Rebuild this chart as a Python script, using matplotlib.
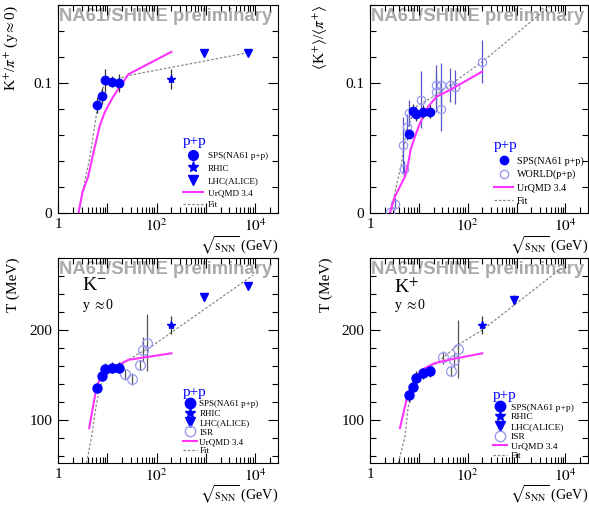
import matplotlib
matplotlib.use('Agg')
import matplotlib.pyplot as plt
from matplotlib.ticker import FixedLocator, FuncFormatter, MultipleLocator, NullFormatter

plt.rcParams['font.family'] = ['Liberation Serif', 'DejaVu Serif']
plt.rcParams['mathtext.fontset'] = 'stix'

# ---------------- data ----------------
sps_x = [6.3, 7.7, 8.8, 12.3, 17.3]
rhic_x = [200]
lhc_x = [900, 7000]
lhc_kp_x = [900]

# Panel 1: K+/pi+ at mid-rapidity
kpi_mid_sps = [0.083, 0.090, 0.102, 0.101, 0.100]
kpi_mid_sps_err = [0.0064, 0.0058, 0.0086, 0.0044, 0.0067]
kpi_mid_rhic = [0.103]
kpi_mid_rhic_err = [0.008]
kpi_mid_lhc = [0.123, 0.123]
urqmd_kpi_mid_x = [2.6, 3.16, 4.1, 5.2, 7.1, 9.0, 12.9, 18, 26.8, 200]
urqmd_kpi_mid_y = [0.0, 0.0164, 0.028, 0.046, 0.0677, 0.078, 0.089, 0.097, 0.1067, 0.124]
fit_kpi_mid_x = [2.6, 3.26, 4.46, 5.63, 6.6, 8.3, 18, 29, 9000]
fit_kpi_mid_y = [0.0, 0.019, 0.0433, 0.069, 0.0856, 0.097, 0.1036, 0.106, 0.124]

# Panel 2: <K+>/<pi+>
kpi_4pi_sps = [0.061, 0.0785, 0.076, 0.078, 0.078]
kpi_4pi_sps_err = [0.0036, 0.005, 0.005, 0.005, 0.005]
world_x = [2.6, 3.2, 4.7, 4.9, 5.8, 6.3, 11, 22, 22, 28, 28, 44, 54, 200]
world_y = [0.0005, 0.0072, 0.052, 0.034, 0.066, 0.077, 0.087, 0.0985, 0.093,
           0.0985, 0.080, 0.0985, 0.0967, 0.1164]
world_err = [0.002, 0.004, 0.022, 0.006, 0.010, 0.010, 0.022, 0.015, 0.015,
             0.017, 0.017, 0.013, 0.013, 0.0165]
urqmd_kpi_4pi_x = [2.56, 3.24, 4.1, 5.2, 6.05, 6.76, 8.3, 10.5, 15.5, 23, 43, 196]
urqmd_kpi_4pi_y = [0.0005, 0.0126, 0.0203, 0.028, 0.038, 0.0485, 0.0587, 0.069,
                   0.0818, 0.0895, 0.0946, 0.1087]
fit_kpi_4pi_x = [2.6, 4.4, 5.6, 9.0, 23, 200, 5100]
fit_kpi_4pi_y = [0.0, 0.038, 0.064, 0.082, 0.091, 0.1164, 0.16]

# Panel 3: inverse slope T of K-
T_km_sps = [135.9, 148.9, 156.7, 158.1, 158.1]
T_km_sps_err = [5, 6, 6, 6, 6]
T_km_rhic = [205.6]
T_km_rhic_err = [10]
T_km_lhc = [237, 249]
T_km_lhc_err = [4, 4]
isr_km_x = [23, 31, 45, 53, 63]
T_km_isr = [150.8, 145.6, 161.1, 177.8, 185.9]
T_km_isr_err = [6, 7, 6, 14, 32]
urqmd_T_km_x = [4.3, 5.2, 6.1, 7.7, 9.7, 16.7, 26.7, 54, 200]
urqmd_T_km_y = [90.8, 116.7, 137, 150, 156.3, 161.1, 166.7, 169.3, 174]
fit_T_km_x = [3.8, 4.8, 5.9, 7.1, 9.7, 16.7, 39, 73, 9100]
fit_T_km_y = [52, 81.5, 114.8, 137, 150, 159.3, 172.2, 180.4, 261]

# Panel 4: inverse slope T of K+
T_kp_sps = [127.8, 136.3, 146.3, 151.9, 154.1]
T_kp_sps_err = [8, 8, 8, 6, 6]
T_kp_rhic = [205.6]
T_kp_rhic_err = [10]
T_kp_lhc = [233.3]
T_kp_lhc_err = [6]
isr_kp_x = [31, 45, 53, 63]
T_kp_isr = [169.6, 154.4, 166.7, 178.9]
T_kp_isr_err = [7, 6, 8, 32]
urqmd_T_kp_x = [4.1, 5.2, 6.05, 8.3, 11.4, 21, 46.5, 200]
urqmd_T_kp_y = [90.8, 114.8, 129.6, 144.4, 155.6, 163, 167.4, 174]
fit_T_kp_x = [3.8, 5.2, 6.05, 9.7, 21, 63, 200, 8000]
fit_T_kp_y = [52, 81.5, 114.8, 148, 161.1, 183.3, 200, 268]

xtick_labels = {1: '1', 100: '$10^2$', 10000: '$10^4$'}

# ---------------- style ----------------
BLUE = '#0000ff'
PINK = '#ff33ff'
GRAY = '#888888'
LIGHT = '#9999ee'
ERRC = '#333333'

W, H = 589, 507
fig = plt.figure(figsize=(W / 100, H / 100), dpi=100)


def add_ax(l, t, r, b):
    return fig.add_axes([l / W, 1 - b / H, (r - l) / W, (b - t) / H])


ax1 = add_ax(58, 5, 278, 213)
ax2 = add_ax(370, 5, 588, 213)
ax3 = add_ax(58, 258, 278, 463)
ax4 = add_ax(370, 258, 588, 463)


def style(ax, ylim, ymajor, yminor, ylab, lab_x, xlab_y):
    ax.set_xscale('log')
    ax.set_xlim(1, 2.9e4)
    ax.set_ylim(*ylim)
    decades = [10 ** k for k in range(0, 5)]
    ax.xaxis.set_major_locator(FixedLocator(decades))
    minors = [m * 10 ** k for k in range(0, 5) for m in range(2, 10)]
    ax.xaxis.set_minor_locator(FixedLocator(minors))
    ax.xaxis.set_major_formatter(FuncFormatter(lambda v, p: xtick_labels.get(int(round(v)), '')))
    ax.xaxis.set_minor_formatter(NullFormatter())
    ax.yaxis.set_major_locator(FixedLocator(ymajor))
    ax.yaxis.set_minor_locator(MultipleLocator(yminor))
    ax.tick_params(which='both', direction='in', top=True, right=True, width=0.8)
    ax.tick_params(which='major', length=7, labelsize=11)
    ax.tick_params(which='minor', length=4)
    ax.tick_params(axis='x', which='major', pad=3.5)
    ax.tick_params(axis='y', which='major', pad=4)
    for s in ax.spines.values():
        s.set_linewidth(0.8)
    ax.set_ylabel(ylab, loc='top', fontsize=11)
    ax.yaxis.set_label_coords(lab_x, 1.0)
    ax.set_xlabel(r'$\sqrt{\mathrm{s}_{\mathrm{NN}}}$ (GeV)', loc='right', fontsize=10.2)
    ax.xaxis.set_label_coords(1.0, xlab_y)
    ax.text(0.005, 0.985, 'NA61/SHINE preliminary', transform=ax.transAxes,
            ha='left', va='top', fontsize=13.3, fontweight='bold',
            color='#aaaaaa', family='Liberation Sans', zorder=0)


style(ax1, (0, 0.16), [0, 0.1], 0.02, r'K$^{+}$/$\pi^{+}$ (y$\approx$0)', -0.173, -0.105)
style(ax2, (0, 0.16), [0, 0.1], 0.02,
      r'$\langle$K$^{+}\rangle$/$\langle\pi^{+}\rangle$', -0.183, -0.105)
style(ax3, (52, 280), [100, 200], 20, 'T (MeV)', -0.173, -0.1)
style(ax4, (52, 280), [100, 200], 20, 'T (MeV)', -0.17, -0.1)
ax1.yaxis.set_major_formatter(FuncFormatter(lambda v, p: '0' if v == 0 else f'{v:g}'))
ax2.yaxis.set_major_formatter(FuncFormatter(lambda v, p: '0' if v == 0 else f'{v:g}'))


def eb(ax, x, y, err, **kw):
    return ax.errorbar(x, y, yerr=err, capsize=0, elinewidth=0.9, linestyle='none', **kw)


def legend(ax, handles, labels, anchor, fs, hl, htp, lsp, tfs):
    leg = ax.legend(handles, labels, loc='upper left', bbox_to_anchor=anchor,
                    frameon=False, fontsize=fs, title='p+p', title_fontsize=tfs,
                    handlelength=hl, handletextpad=htp, labelspacing=lsp,
                    borderpad=0, borderaxespad=0, alignment='left', markerscale=1.0)
    leg.get_title().set_color(BLUE)
    return leg


# ---- panel 1 ----
ax = ax1
l_fit, = ax.plot(fit_kpi_mid_x, fit_kpi_mid_y, ls=(0, (2, 1.5)), color=GRAY, lw=0.9)
l_urq, = ax.plot(urqmd_kpi_mid_x, urqmd_kpi_mid_y, color=PINK, lw=1.5)
eb(ax, sps_x, kpi_mid_sps, kpi_mid_sps_err, marker='o', ms=6, color=BLUE, ecolor=ERRC, zorder=5)
eb(ax, rhic_x, kpi_mid_rhic, kpi_mid_rhic_err, marker='*', ms=6, color=BLUE, ecolor=ERRC, zorder=5)
ax.plot(lhc_x, kpi_mid_lhc, marker='v', ms=6, color=BLUE, ls='none', zorder=5)
m_sps, = ax.plot([], [], 'o', color=BLUE, ms=7)
m_rhic, = ax.plot([], [], '*', color=BLUE, ms=8)
m_lhc, = ax.plot([], [], 'v', color=BLUE, ms=7)
legend(ax, [m_sps, m_rhic, m_lhc, l_urq, l_fit],
       ['SPS(NA61 p+p)', 'RHIC', 'LHC(ALICE)', 'UrQMD 3.4', 'Fit'],
       ((183 - 58) / 220, 1 - (135 - 5) / 208), 6.6, 2.2, 0.55, 0.42, 11)

# ---- panel 2 ----
ax = ax2
l_fit2, = ax.plot(fit_kpi_4pi_x, fit_kpi_4pi_y, ls=(0, (2, 1.5)), color=GRAY, lw=0.9)
eb(ax, world_x, world_y, world_err, marker='o', ms=6, mfc='none', mec=LIGHT, mew=0.9,
   color=LIGHT, ecolor='#5555cc', zorder=3)
l_urq2, = ax.plot(urqmd_kpi_4pi_x, urqmd_kpi_4pi_y, color=PINK, lw=1.5, zorder=4)
eb(ax, sps_x, kpi_4pi_sps, kpi_4pi_sps_err, marker='o', ms=6, color=BLUE, ecolor=ERRC, zorder=5)
m_sps2, = ax.plot([], [], 'o', color=BLUE, ms=6)
m_world, = ax.plot([], [], 'o', mfc='none', mec=LIGHT, ms=6)
legend(ax, [m_sps2, m_world, l_urq2, l_fit2],
       ['SPS(NA61 p+p)', 'WORLD(p+p)', 'UrQMD 3.4', 'Fit'],
       ((494 - 370) / 218, 1 - (139 - 5) / 208), 7.3, 1.9, 0.37, 0.4, 11)


# ---- panels 3 & 4 ----
def tpanel(ax, sps_y, sps_e, rhic_y, rhic_e, lx, ly, le, ix, iy, ie, ux, uy, fx, fy,
           anchor, label, fs, hl, htp):
    lf, = ax.plot(fx, fy, ls=(0, (2, 1.5)), color=GRAY, lw=0.9)
    lu, = ax.plot(ux, uy, color=PINK, lw=1.5, zorder=4)
    eb(ax, ix, iy, ie, marker='o', ms=7, mfc='none', mec=LIGHT, mew=0.9, color=LIGHT,
       ecolor='#555555', zorder=3)
    eb(ax, sps_x, sps_y, sps_e, marker='o', ms=6.5, color=BLUE, ecolor=ERRC, zorder=5)
    eb(ax, rhic_x, rhic_y, rhic_e, marker='*', ms=6, color=BLUE, ecolor=ERRC, zorder=5)
    eb(ax, lx, ly, le, marker='v', ms=6, color=BLUE, ecolor=ERRC, zorder=5)
    ms_, = ax.plot([], [], 'o', color=BLUE, ms=7.5)
    mr_, = ax.plot([], [], '*', color=BLUE, ms=7.5)
    ml_, = ax.plot([], [], 'v', color=BLUE, ms=7)
    mi_, = ax.plot([], [], 'o', mfc='none', mec=LIGHT, ms=7.5)
    legend(ax, [ms_, mr_, ml_, mi_, lu, lf],
           ['SPS(NA61 p+p)', 'RHIC', 'LHC(ALICE)', 'ISR', 'UrQMD 3.4', 'Fit'],
           anchor, fs, hl, htp, 0.12, 11)
    ax.text(0.11, 0.905, label, transform=ax.transAxes, ha='left', va='top', fontsize=14)
    ax.text(0.11, 0.81, r'y $\approx$0', transform=ax.transAxes, ha='left', va='top', fontsize=10)


tpanel(ax3, T_km_sps, T_km_sps_err, T_km_rhic, T_km_rhic_err, lhc_x, T_km_lhc, T_km_lhc_err,
       isr_km_x, T_km_isr, T_km_isr_err, urqmd_T_km_x, urqmd_T_km_y, fit_T_km_x, fit_T_km_y,
       ((183 - 58) / 220, 1 - (386 - 258) / 205), r'K$^{-}$', 6.5, 1.55, 0.25)
tpanel(ax4, T_kp_sps, T_kp_sps_err, T_kp_rhic, T_kp_rhic_err, lhc_kp_x, T_kp_lhc, T_kp_lhc_err,
       isr_kp_x, T_kp_isr, T_kp_isr_err, urqmd_T_kp_x, urqmd_T_kp_y, fit_T_kp_x, fit_T_kp_y,
       ((493 - 370) / 218, 1 - (389 - 258) / 205), r'K$^{+}$', 6.8, 1.5, 0.4)

fig.savefig('out.png', dpi=100)
